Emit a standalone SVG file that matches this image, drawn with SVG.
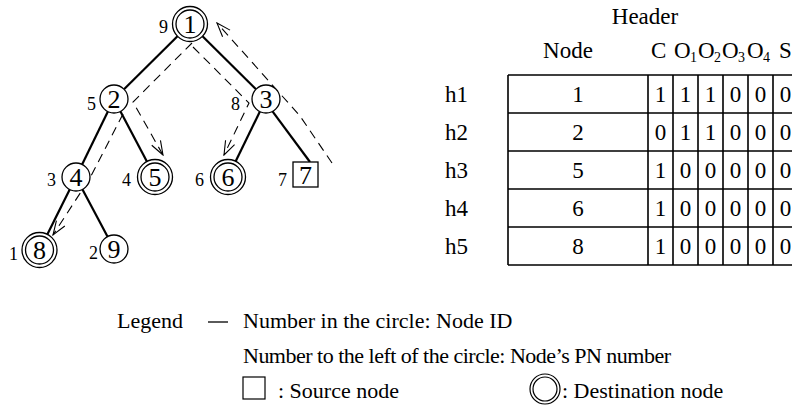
<svg xmlns="http://www.w3.org/2000/svg" width="792" height="410" viewBox="0 0 792 410" font-family="'Liberation Serif', 'Times New Roman', serif">
<style>
text{font-family:'Liberation Serif','Times New Roman',serif;fill:#000}
.id{font-size:26px;text-anchor:middle}
.pn{font-size:18px;text-anchor:end}
.c{fill:#fff;stroke:#000;stroke-width:1.3}
.e{stroke:#000;stroke-width:2.2;fill:none}
.d{stroke:#000;stroke-width:1.1;fill:none;stroke-dasharray:9 6}
.t{font-size:23px}
.tc{font-size:23px;text-anchor:middle}
.sub{font-size:14px}
.g{stroke:#000;stroke-width:1.6;fill:none}
.lg{font-size:22px}
</style>
<defs>
<marker id="ah" markerWidth="16" markerHeight="12" viewBox="0 0 16 12" refX="15" refY="6" orient="auto" markerUnits="userSpaceOnUse">
<path d="M1,1 L15,6 L1,11" fill="none" stroke="#000" stroke-width="1.1" stroke-dasharray="none"/>
</marker>
</defs>
<rect width="792" height="410" fill="#fff"/>
<g id="edges">
<line class="e" x1="177.5" y1="36.3" x2="124" y2="89.2"/>
<line class="e" x1="202.5" y1="36.3" x2="256" y2="89.2"/>
<line class="e" x1="107.9" y1="111.6" x2="82.1" y2="164.4"/>
<line class="e" x1="120.5" y1="111.4" x2="146.9" y2="161.5"/>
<line class="e" x1="259.9" y1="111.6" x2="235.7" y2="161.3"/>
<line class="e" x1="272.5" y1="111.4" x2="310" y2="162"/>
<line class="e" x1="69.7" y1="189.5" x2="47.3" y2="234.4"/>
<line class="e" x1="82.5" y1="189.4" x2="107.5" y2="236.6"/>
<path class="d" d="M332,163 L300,116 L217,23" marker-end="url(#ah)"/>
<path class="d" d="M192,43 L133,102 L163,155" marker-end="url(#ah)"/>
<path class="d" d="M193,47 L249,103 L224,155" marker-end="url(#ah)"/>
<path class="d" d="M123,114 L90,178 L53,235" marker-end="url(#ah)"/>
</g>
<g id="n1"><circle class="c" cx="190" cy="24" r="17.5"/><circle class="c" cx="190" cy="24" r="14"/><text class="id" x="190" y="33">1</text><text class="pn" x="168" y="33">9</text></g>
<g id="n2"><circle class="c" cx="114" cy="99" r="14"/><text class="id" x="114" y="108">2</text><text class="pn" x="96" y="110">5</text></g>
<g id="n3"><circle class="c" cx="266" cy="99" r="14"/><text class="id" x="266" y="108">3</text><text class="pn" x="240" y="110">8</text></g>
<g id="n4"><circle class="c" cx="76" cy="177" r="14"/><text class="id" x="76" y="186">4</text><text class="pn" x="56" y="186">3</text></g>
<g id="n5"><circle class="c" cx="155" cy="177" r="17.5"/><circle class="c" cx="155" cy="177" r="14"/><text class="id" x="155" y="186">5</text><text class="pn" x="131" y="186">4</text></g>
<g id="n6"><circle class="c" cx="228" cy="177" r="17.5"/><circle class="c" cx="228" cy="177" r="14"/><text class="id" x="228" y="186">6</text><text class="pn" x="204" y="186">6</text></g>
<g id="n7"><rect class="c" x="293" y="162" width="25" height="25"/><text class="id" x="305.5" y="184">7</text><text class="pn" x="287" y="186">7</text></g>
<g id="n8"><circle class="c" cx="39.5" cy="250" r="17.5"/><circle class="c" cx="39.5" cy="250" r="14"/><text class="id" x="39.5" y="259">8</text><text class="pn" x="18" y="260">1</text></g>
<g id="n9"><circle class="c" cx="114" cy="249" r="14"/><text class="id" x="114" y="258">9</text><text class="pn" x="98" y="259">2</text></g>
<g id="table">
<text class="tc" x="645" y="24">Header</text>
<text class="tc" x="568" y="58">Node</text>
<text class="t" x="651" y="58">C</text>
<text class="t" x="674" y="58">O</text><text class="sub" x="690" y="62">1</text>
<text class="t" x="698" y="58">O</text><text class="sub" x="714" y="62">2</text>
<text class="t" x="722" y="58">O</text><text class="sub" x="738" y="62">3</text>
<text class="t" x="747" y="58">O</text><text class="sub" x="763" y="62">4</text>
<text class="t" x="779" y="58">S</text>
<path class="g" d="M508,75 H800 M508,113 H800 M508,151 H800 M508,189 H800 M508,227 H800 M508,265 H800 M508,75 V265 M648,75 V265 M673,75 V265 M698,75 V265 M723,75 V265 M748,75 V265 M773,75 V265 M798,75 V265"/>
<text class="t" x="445" y="102">h1</text>
<text class="t" x="445" y="140">h2</text>
<text class="t" x="445" y="178">h3</text>
<text class="t" x="445" y="216">h4</text>
<text class="t" x="445" y="254">h5</text>
<text class="tc" x="578" y="102">1</text>
<text class="tc" x="578" y="140">2</text>
<text class="tc" x="578" y="178">5</text>
<text class="tc" x="578" y="216">6</text>
<text class="tc" x="578" y="254">8</text>
<text class="tc" x="660.5" y="102">1</text><text class="tc" x="685.5" y="102">1</text><text class="tc" x="710.5" y="102">1</text><text class="tc" x="735.5" y="102">0</text><text class="tc" x="760.5" y="102">0</text><text class="tc" x="785.5" y="102">0</text>
<text class="tc" x="660.5" y="140">0</text><text class="tc" x="685.5" y="140">1</text><text class="tc" x="710.5" y="140">1</text><text class="tc" x="735.5" y="140">0</text><text class="tc" x="760.5" y="140">0</text><text class="tc" x="785.5" y="140">0</text>
<text class="tc" x="660.5" y="178">1</text><text class="tc" x="685.5" y="178">0</text><text class="tc" x="710.5" y="178">0</text><text class="tc" x="735.5" y="178">0</text><text class="tc" x="760.5" y="178">0</text><text class="tc" x="785.5" y="178">0</text>
<text class="tc" x="660.5" y="216">1</text><text class="tc" x="685.5" y="216">0</text><text class="tc" x="710.5" y="216">0</text><text class="tc" x="735.5" y="216">0</text><text class="tc" x="760.5" y="216">0</text><text class="tc" x="785.5" y="216">0</text>
<text class="tc" x="660.5" y="254">1</text><text class="tc" x="685.5" y="254">0</text><text class="tc" x="710.5" y="254">0</text><text class="tc" x="735.5" y="254">0</text><text class="tc" x="760.5" y="254">0</text><text class="tc" x="785.5" y="254">0</text>
</g>
<g id="legend">
<text class="lg" x="117" y="328">Legend</text>
<line x1="208" y1="322" x2="228" y2="322" stroke="#000" stroke-width="1.3"/>
<text class="lg" x="243" y="328">Number in the circle: Node ID</text>
<text class="lg" x="243" y="363" textLength="428" lengthAdjust="spacing">Number to the left of the circle: Node’s PN number</text>
<rect x="243" y="377" width="22" height="22" fill="none" stroke="#000" stroke-width="1.2"/>
<text class="lg" x="278" y="398">: Source node</text>
<circle cx="545" cy="389" r="15" fill="none" stroke="#000" stroke-width="1.2"/>
<circle cx="545" cy="389" r="12" fill="none" stroke="#000" stroke-width="1.2"/>
<text class="lg" x="562" y="398">: Destination node</text>
</g>
</svg>
